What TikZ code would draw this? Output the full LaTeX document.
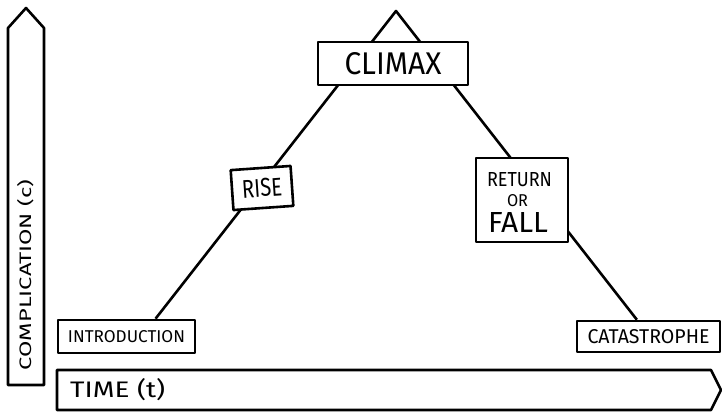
\documentclass[tikz,border=0pt]{standalone}
\usepackage{fontspec}
\setmainfont{Fira Sans}
\usetikzlibrary{backgrounds,calc}
\newcommand{\hw}[3]{\resizebox{#1pt}{#2pt}{#3}}
\begin{document}
\begin{tikzpicture}[x=1pt,y=-1pt,
  ink/.style={line width=2.6pt,line join=round,draw=black},
  box/.style={ink,fill=white,rectangle,inner sep=0pt},
  lbl/.style={inner sep=0pt,text=black}]
\useasboundingbox (0,0) rectangle (722,412);
% axes
\draw[ink] (8,385) -- (8,28) -- (26,8) -- (44,28) -- (44,385) -- cycle;
\node[lbl,rotate=90] (ylab) at (26,275) {\hw{190}{14}{COMPLICATION (c)}};
\draw[ink] (57,370) -- (711,370) -- (721,390) -- (711,410) -- (57,410) -- cycle;
\node[lbl,anchor=west] (xlab) at (70,390) {\hw{95}{19}{TIME (t)}};
% boxes
\coordinate (apex) at (396,11);
\node[box,minimum width=150,minimum height=43] (climax) at (393,63.5) {\hw{97}{22}{CLIMAX}};
\node[box,minimum width=60,minimum height=40,rotate=4] (rise) at (262,188) {\hw{40}{18}{RISE}};
\node[box,minimum width=92,minimum height=84] (ret) at (522,200) {};
\node[lbl] (return) at (519.5,179.5) {\hw{65}{14}{RETURN}};
\node[lbl] (or) at (517.5,201) {\hw{21}{12}{OR}};
\node[lbl] (fall) at (518,222) {\hw{60}{20}{FALL}};
\node[box,minimum width=137,minimum height=33] (intro) at (126.5,336.5) {\hw{117}{12}{INTRODUCTION}};
\node[box,minimum width=143,minimum height=31] (cat) at (648.5,336.5) {\hw{122}{14}{CATASTROPHE}};
\begin{pgfonlayer}{background}
\draw[ink] ($(intro.north west)!0.708!(intro.north east)$) -- (apex)
  -- ($(cat.north west)!0.42!(cat.north east)$);
\end{pgfonlayer}
\end{tikzpicture}
\end{document}
